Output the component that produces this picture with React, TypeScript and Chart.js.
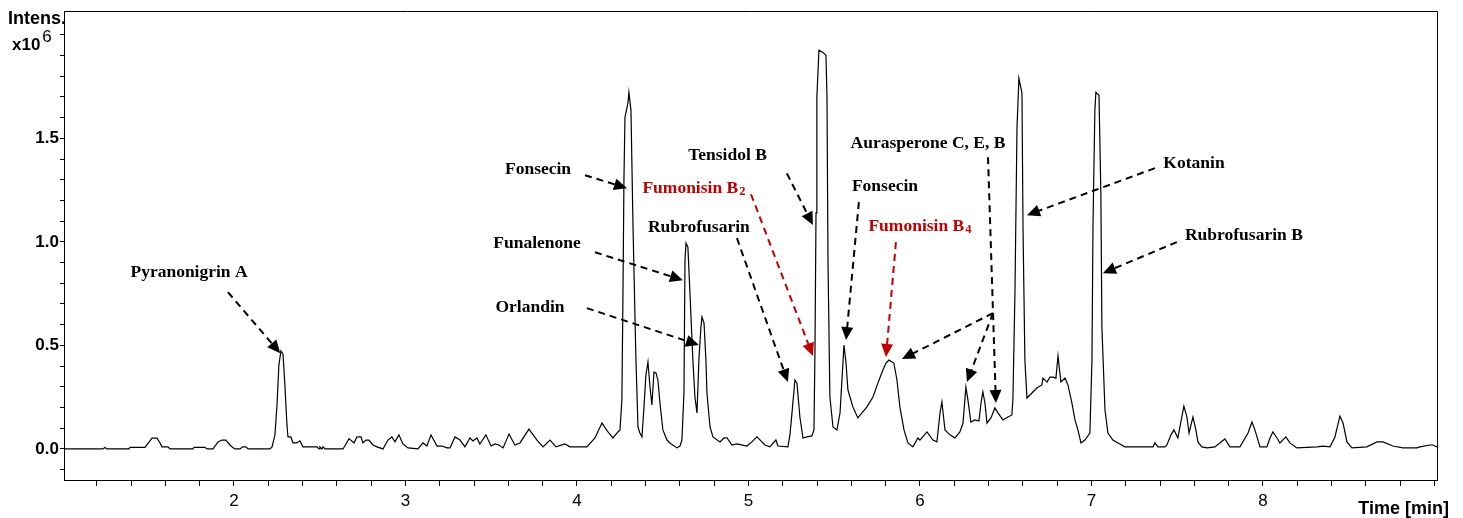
import React, { useEffect, useRef } from 'react';
import { Chart, registerables } from 'chart.js';

Chart.register(...registerables);

// Retention time (min) of trace points
const timeMin: number[] = [
  1.009, 1.236, 1.248, 1.259, 1.388, 1.394, 1.481, 1.510, 1.522, 1.551, 1.569, 1.580, 1.615, 1.627, 1.761, 1.767, 1.831, 1.843, 1.878, 1.907, 1.930, 1.953, 1.977, 1.988,
  2.006, 2.035, 2.052, 2.070, 2.082, 2.210, 2.222, 2.239, 2.251, 2.262, 2.274, 2.286, 2.297, 2.309, 2.315, 2.332, 2.344, 2.367, 2.385, 2.402, 2.484, 2.496, 2.501, 2.513, 2.519, 2.531, 2.636, 2.671, 2.700, 2.717, 2.741, 2.752, 2.770, 2.787, 2.811, 2.834, 2.869, 2.898, 2.921, 2.939, 2.962, 2.985,
  3.015, 3.073, 3.102, 3.125, 3.149, 3.184, 3.213, 3.242, 3.260, 3.289, 3.318, 3.347, 3.376, 3.394, 3.417, 3.434, 3.469, 3.499, 3.522, 3.545, 3.569, 3.604, 3.638, 3.668, 3.720, 3.767, 3.802, 3.843, 3.878, 3.930, 3.959,
  4.058, 4.105, 4.146, 4.181, 4.210, 4.239, 4.251, 4.262, 4.268, 4.274, 4.280, 4.297, 4.303, 4.315, 4.327, 4.344, 4.356, 4.367, 4.379, 4.391, 4.402, 4.414, 4.426, 4.437, 4.449, 4.461, 4.472, 4.484, 4.501, 4.525, 4.542, 4.583, 4.601, 4.612, 4.624, 4.630, 4.636, 4.647, 4.659, 4.676, 4.688, 4.700, 4.711, 4.723, 4.729, 4.741, 4.752, 4.758, 4.776, 4.793, 4.834, 4.857, 4.875, 4.904, 4.933, 4.991,
  5.020, 5.050, 5.073, 5.096, 5.125, 5.160, 5.172, 5.230, 5.242, 5.254, 5.271, 5.283, 5.300, 5.318, 5.341, 5.370, 5.382, 5.388, 5.394, 5.399, 5.411, 5.434, 5.452, 5.458, 5.464, 5.475, 5.493, 5.516, 5.534, 5.551, 5.557, 5.569, 5.580, 5.592, 5.609, 5.638, 5.662, 5.691, 5.726, 5.755, 5.784, 5.802, 5.819, 5.848, 5.866, 5.883, 5.907, 5.930, 5.959, 5.988,
  6.000, 6.041, 6.076, 6.099, 6.117, 6.128, 6.146, 6.175, 6.204, 6.233, 6.251, 6.268, 6.280, 6.297, 6.321, 6.344, 6.356, 6.367, 6.379, 6.391, 6.414, 6.437, 6.455, 6.484, 6.513, 6.536, 6.542, 6.554, 6.566, 6.577, 6.595, 6.601, 6.612, 6.624, 6.653, 6.682, 6.711, 6.717, 6.741, 6.758, 6.776, 6.793, 6.805, 6.822, 6.846, 6.863, 6.886, 6.904, 6.921, 6.939, 6.962, 6.991,
  7.003, 7.009, 7.020, 7.026, 7.044, 7.055, 7.061, 7.079, 7.096, 7.125, 7.155, 7.195, 7.359, 7.370, 7.388, 7.429, 7.440, 7.464, 7.481, 7.504, 7.539, 7.557, 7.569, 7.592, 7.609, 7.621, 7.644, 7.674, 7.720, 7.749, 7.778, 7.808, 7.866, 7.913, 7.936, 7.953, 7.983,
  8.023, 8.041, 8.058, 8.082, 8.099, 8.134, 8.157, 8.198, 8.315, 8.350, 8.391, 8.420, 8.449, 8.467, 8.490, 8.519, 8.606, 8.665, 8.700, 8.758, 8.816, 8.898, 8.916, 8.974, 8.991, 9.015,
];

// Intensity (x10^6) of trace points
const intensity: number[] = [
  0, 0, 0.007, 0, 0, 0.008, 0.008, 0.039, 0.052, 0.052, 0.029, 0.010, 0.010, 0, 0, 0.008, 0.008, 0, 0, 0.034, 0.043, 0.043, 0.019, 0.010,
  0, 0, 0.010, 0.010, 0, 0, 0.010, 0.068, 0.212, 0.405, 0.473, 0.458, 0.309, 0.116, 0.058, 0.058, 0.029, 0.029, 0.039, 0.010, 0.010, 0, 0.010, 0, 0.010, 0, 0, 0.050, 0.029, 0.058, 0.058, 0.029, 0.043, 0.043, 0.019, 0.010, 0, 0.043, 0.058, 0.034, 0.068, 0.024,
  0.005, 0, 0.029, 0.014, 0.068, 0.014, 0.014, 0.005, 0.005, 0.058, 0.043, 0.010, 0.053, 0.039, 0.053, 0.024, 0.068, 0.014, 0.024, 0.019, 0.005, 0.072, 0.019, 0.029, 0.096, 0.043, 0.010, 0.043, 0.010, 0.024, 0.010,
  0.010, 0.053, 0.125, 0.082, 0.053, 0.082, 0.092, 0.236, 0.719, 1.298, 1.602, 1.669, 1.722, 1.635, 1.071, 0.429, 0.106, 0.077, 0.058, 0.203, 0.357, 0.420, 0.299, 0.212, 0.371, 0.367, 0.333, 0.222, 0.092, 0.043, 0.029, 0.005, 0.014, 0.043, 0.270, 0.912, 0.994, 0.974, 0.753, 0.429, 0.251, 0.174, 0.429, 0.589, 0.637, 0.608, 0.429, 0.270, 0.106, 0.058, 0.034, 0.053, 0.053, 0.019, 0.024, 0.014,
  0.034, 0.058, 0.039, 0.019, 0.010, 0.043, 0.014, 0.010, 0.068, 0.174, 0.333, 0.318, 0.154, 0.053, 0.058, 0.063, 0.092, 0.478, 1.140, 1.698, 1.925, 1.915, 1.901, 1.698, 0.897, 0.251, 0.106, 0.092, 0.174, 0.415, 0.502, 0.415, 0.285, 0.251, 0.203, 0.150, 0.174, 0.203, 0.251, 0.318, 0.381, 0.415, 0.429, 0.415, 0.333, 0.203, 0.092, 0.029, 0.010, 0.053,
  0.043, 0.082, 0.043, 0.034, 0.174, 0.227, 0.092, 0.068, 0.053, 0.082, 0.125, 0.299, 0.236, 0.130, 0.140, 0.135, 0.222, 0.275, 0.222, 0.125, 0.150, 0.198, 0.174, 0.140, 0.154, 0.164, 0.236, 0.753, 1.553, 1.790, 1.717, 1.071, 0.429, 0.246, 0.270, 0.294, 0.309, 0.342, 0.323, 0.347, 0.347, 0.342, 0.449, 0.323, 0.342, 0.309, 0.222, 0.140, 0.092, 0.029, 0.043, 0.077,
  0.429, 1.071, 1.635, 1.722, 1.708, 1.235, 0.589, 0.188, 0.077, 0.043, 0.029, 0.010, 0.010, 0.029, 0.010, 0.010, 0.019, 0.068, 0.092, 0.053, 0.207, 0.154, 0.077, 0.154, 0.092, 0.034, 0.010, 0.005, 0.010, 0.029, 0.048, 0.010, 0.010, 0.077, 0.130, 0.092, 0.010,
  0.010, 0.053, 0.082, 0.053, 0.029, 0.058, 0.029, 0.005, 0.010, 0.014, 0.010, 0.058, 0.159, 0.125, 0.034, 0.005, 0.010, 0.034, 0.034, 0.014, 0.005, 0.005, 0.010, 0.019, 0.019, 0.010,
];

// Axis ticks
const xMajorLabels: number[] = [2, 3, 4, 5, 6, 7, 8];
const yMajorLabels: number[] = [0.0, 0.5, 1.0, 1.5];
const X_MIN = 1.009, X_MAX = 9.015, X_MINOR = 0.2, X_FIRST = 1.2, X_LAST = 9.0;
const Y_MIN = -0.15, Y_MAX = 2.115, Y_MINOR = 0.1, Y_FIRST = -0.1, Y_LAST = 2.0;

// Compound annotations (label position and arrow endpoints in data units: [time, intensity])
type Seg = { from: [number, number]; to: [number, number]; head: boolean };
type Ann = { text: string; sub?: string; red?: boolean; at: [number, number]; segs: Seg[] };
const annotations: Ann[] = [
  { text: 'Pyranonigrin A', at: [1.738, 0.854], segs: [{ from: [1.965, 0.757], to: [2.270, 0.462], head: true }] },
  { text: 'Fonsecin', at: [3.773, 1.351], segs: [{ from: [4.047, 1.322], to: [4.292, 1.259], head: true }] },
  { text: 'Funalenone', at: [3.767, 0.994], segs: [{ from: [4.105, 0.950], to: [4.618, 0.815], head: true }] },
  { text: 'Orlandin', at: [3.726, 0.685], segs: [{ from: [4.058, 0.680], to: [4.711, 0.502], head: true }] },
  { text: 'Fumonisin B', sub: '2', red: true, at: [4.682, 1.259], segs: [{ from: [5.015, 1.230], to: [5.376, 0.449], head: true }] },
  { text: 'Rubrofusarin', at: [4.711, 1.071], segs: [{ from: [4.933, 1.018], to: [5.230, 0.323], head: true }] },
  { text: 'Tensidol B', at: [4.878, 1.418], segs: [{ from: [5.224, 1.331], to: [5.376, 1.081], head: true }] },
  { text: 'Fonsecin', at: [5.796, 1.269], segs: [{ from: [5.644, 1.192], to: [5.569, 0.526], head: true }] },
  { text: 'Fumonisin B', sub: '4', red: true, at: [6.000, 1.076], segs: [{ from: [5.860, 0.999], to: [5.802, 0.444], head: true }] },
  {
    text: 'Aurasperone C, E, B', at: [6.047, 1.476], segs: [
      { from: [6.397, 1.409], to: [6.443, 0.222], head: true },
      { from: [6.426, 0.656], to: [5.895, 0.434], head: true },
      { from: [6.426, 0.656], to: [6.274, 0.323], head: true },
    ],
  },
  { text: 'Kotanin', at: [7.598, 1.380], segs: [{ from: [7.370, 1.356], to: [6.624, 1.129], head: true }] },
  { text: 'Rubrofusarin B', at: [7.889, 1.032], segs: [{ from: [7.498, 0.999], to: [7.067, 0.849], head: true }] },
];

const SANS = '"Liberation Sans", Arial, Helvetica, sans-serif';
const SERIF = '"Liberation Serif", "Times New Roman", serif';
const RED = '#c00000';

function buildTicks(first: number, last: number, step: number): number[] {
  const out: number[] = [];
  const n = Math.round((last - first) / step);
  for (let i = 0; i <= n; i++) out.push(Math.round((first + i * step) * 1000) / 1000);
  return out;
}

function drawArrow(ctx: CanvasRenderingContext2D, x0: number, y0: number, x1: number, y1: number, color: string, head: boolean) {
  const ang = Math.atan2(y1 - y0, x1 - x0);
  const hl = 13, hw = 6;
  const ex = head ? x1 - Math.cos(ang) * (hl - 2) : x1;
  const ey = head ? y1 - Math.sin(ang) * (hl - 2) : y1;
  ctx.save();
  ctx.strokeStyle = color;
  ctx.fillStyle = color;
  ctx.lineWidth = 2;
  ctx.setLineDash([7, 5]);
  ctx.beginPath();
  ctx.moveTo(x0, y0);
  ctx.lineTo(ex, ey);
  ctx.stroke();
  ctx.setLineDash([]);
  if (head) {
    const bx = x1 - Math.cos(ang) * hl, by = y1 - Math.sin(ang) * hl;
    ctx.beginPath();
    ctx.moveTo(x1, y1);
    ctx.lineTo(bx + Math.sin(ang) * hw, by - Math.cos(ang) * hw);
    ctx.lineTo(bx - Math.sin(ang) * hw, by + Math.cos(ang) * hw);
    ctx.closePath();
    ctx.fill();
  }
  ctx.restore();
}

const overlayPlugin = {
  id: 'overlay',
  afterDatasetsDraw(chart: any) {
    const { ctx, scales } = chart;
    const xs = scales.x, ys = scales.y;
    const px = (t: number) => xs.getPixelForValue(t);
    const py = (v: number) => ys.getPixelForValue(v);
    annotations.forEach((a) => {
      const color = a.red ? RED : '#000';
      a.segs.forEach((s) => drawArrow(ctx, px(s.from[0]), py(s.from[1]), px(s.to[0]), py(s.to[1]), color, s.head));
      ctx.save();
      ctx.fillStyle = color;
      ctx.textBaseline = 'middle';
      ctx.textAlign = 'left';
      const mainFont = `bold 17.5px ${SERIF}`;
      const subFont = `bold 12.5px ${SERIF}`;
      ctx.font = mainFont;
      const w1 = ctx.measureText(a.text).width;
      let w2 = 0;
      if (a.sub) { ctx.font = subFont; w2 = ctx.measureText(a.sub).width + 1; }
      const cx = px(a.at[0]), cy = py(a.at[1]);
      const x0 = cx - (w1 + w2) / 2;
      ctx.font = mainFont;
      ctx.fillText(a.text, x0, cy);
      if (a.sub) { ctx.font = subFont; ctx.fillText(a.sub, x0 + w1 + 1, cy + 4); }
      ctx.restore();
    });
  },
  afterDraw(chart: any) {
    const { ctx, chartArea } = chart;
    const { left, top, right, bottom } = chartArea;
    ctx.save();
    ctx.strokeStyle = '#000';
    ctx.lineWidth = 1;
    ctx.beginPath();
    ctx.moveTo(left, Math.round(top) + 0.5);
    ctx.lineTo(Math.round(right) + 0.5, Math.round(top) + 0.5);
    ctx.lineTo(Math.round(right) + 0.5, bottom);
    ctx.stroke();
    ctx.fillStyle = '#000';
    ctx.textBaseline = 'alphabetic';
    ctx.textAlign = 'left';
    ctx.font = `bold 18px ${SANS}`;
    ctx.fillText('Intens.', 8, 24);
    ctx.font = `bold 17px ${SANS}`;
    ctx.fillText('x10', 12, 50);
    const w = ctx.measureText('x10').width;
    ctx.font = `17px ${SANS}`;
    ctx.fillText('6', 12 + w + 2, 42);
    ctx.font = `bold 18px ${SANS}`;
    ctx.textAlign = 'right';
    ctx.fillText('Time [min]', 1449, 514);
    ctx.restore();
  },
};

export default function App() {
  const canvasRef = useRef<HTMLCanvasElement | null>(null);

  useEffect(() => {
    if (!canvasRef.current) return;
    const n = Math.min(timeMin.length, intensity.length);
    const points = [] as { x: number; y: number }[];
    for (let i = 0; i < n; i++) points.push({ x: timeMin[i], y: intensity[i] });
    const xTicks = buildTicks(X_FIRST, X_LAST, X_MINOR);
    const yTicks = buildTicks(Y_FIRST, Y_LAST, Y_MINOR);

    const chart = new Chart(canvasRef.current, {
      type: 'line',
      data: {
        datasets: [
          {
            data: points,
            borderColor: '#000',
            borderWidth: 1.2,
            pointRadius: 0,
            tension: 0,
            fill: false,
          },
        ],
      },
      options: {
        animation: false,
        responsive: false,
        devicePixelRatio: 1,
        layout: { padding: { left: 0, top: 11, right: 26, bottom: 0 } },
        plugins: { legend: { display: false }, tooltip: { enabled: false }, title: { display: false } },
        scales: {
          x: {
            type: 'linear',
            min: X_MIN,
            max: X_MAX,
            afterBuildTicks: (s: any) => { s.ticks = xTicks.map((v) => ({ value: v })); },
            afterFit: (s: any) => { s.height = 38; s.paddingLeft = 0; s.paddingRight = 0; },
            grid: { drawOnChartArea: false, drawTicks: true, tickLength: 6, color: '#000', lineWidth: 1 },
            border: { display: true, color: '#000', width: 1 },
            ticks: {
              autoSkip: false,
              maxRotation: 0,
              padding: 5,
              color: '#000',
              font: { family: SANS, size: 17 },
              callback: (v: any) => (xMajorLabels.includes(Math.round(Number(v) * 1000) / 1000) ? String(Math.round(Number(v))) : ''),
            },
          },
          y: {
            type: 'linear',
            min: Y_MIN,
            max: Y_MAX,
            afterBuildTicks: (s: any) => { s.ticks = yTicks.map((v) => ({ value: v })); },
            afterFit: (s: any) => { s.width = 64; s.paddingTop = 0; s.paddingBottom = 0; },
            grid: { drawOnChartArea: false, drawTicks: true, tickLength: 4, color: '#000', lineWidth: 1 },
            border: { display: true, color: '#000', width: 1 },
            ticks: {
              autoSkip: false,
              padding: 1,
              color: '#000',
              font: { family: SANS, size: 17, weight: 'bold' },
              callback: (v: any) => {
                const r = Math.round(Number(v) * 1000) / 1000;
                return yMajorLabels.includes(r) ? r.toFixed(1) : '';
              },
            },
          },
        },
      } as any,
      plugins: [overlayPlugin],
    });
    return () => chart.destroy();
  }, []);

  return (
    <div style={{ position: 'absolute', left: 0, top: 0, width: 1463, height: 518, background: '#fff' }}>
      <canvas ref={canvasRef} width={1463} height={518} style={{ display: 'block', width: 1463, height: 518 }} />
    </div>
  );
}
